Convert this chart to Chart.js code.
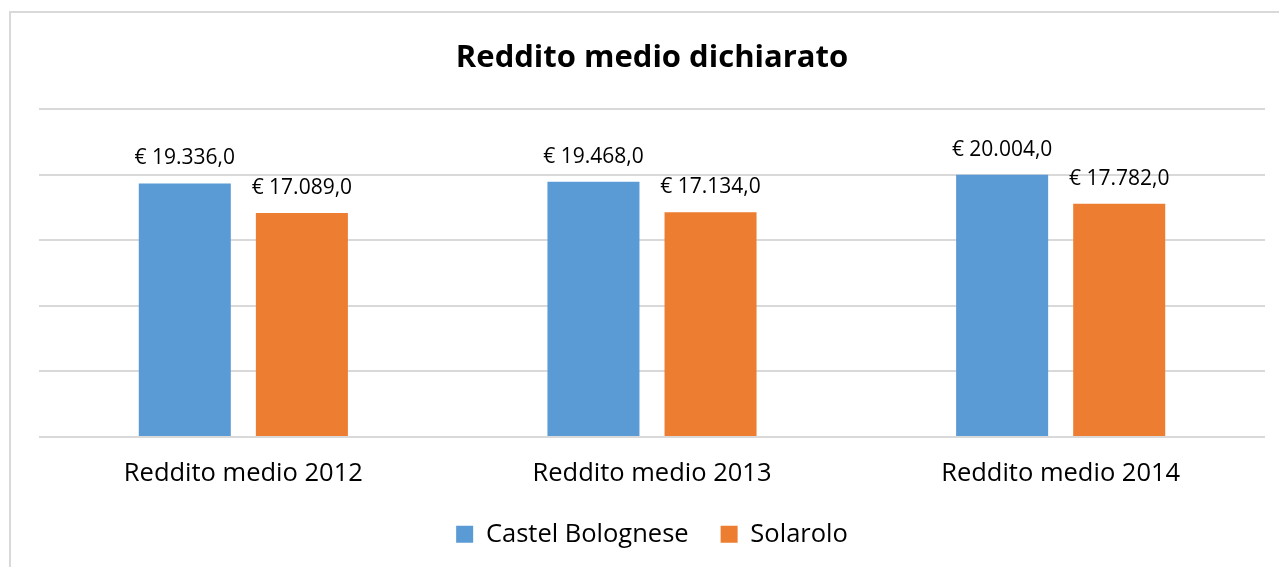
<!DOCTYPE html>
<html>
<head>
<meta charset="utf-8">
<script src="https://cdn.jsdelivr.net/npm/chart.js@4.4.1/dist/chart.umd.min.js"></script>
<style>
  html, body { margin: 0; padding: 0; background: #fff; overflow: hidden; }
  #frame { position: absolute; left: 9px; top: 11px; width: 1320px; height: 620px; border: 2px solid #d9d9d9; }
  #wrap { position: absolute; left: 0; top: 0; width: 1279px; height: 567px; }
</style>
</head>
<body>
<div id="frame"></div>
<div id="wrap"><canvas id="incomeChart"></canvas></div>
<script>
const categories = ["Reddito medio 2012", "Reddito medio 2013", "Reddito medio 2014"];
const castelBolognese = [19336, 19468, 20004];
const solarolo = [17089, 17134, 17782];
const seriesNames = ["Castel Bolognese", "Solarolo"];

// "€ 19.336,0"
function euro(v) {
    const intPart = Math.floor(v).toString().replace(/\B(?=(\d{3})+(?!\d))/g, ".");
    return "€ " + intPart + ",0";
}

const valueLabels = {
    id: 'valueLabels',
    afterDatasetsDraw(chart) {
        const ctx = chart.ctx;
        ctx.save();
        ctx.font = '21px "Open Sans"';
        ctx.fillStyle = '#000';
        ctx.textAlign = 'center';
        ctx.textBaseline = 'middle';
        chart.data.datasets.forEach((ds, i) => {
            chart.getDatasetMeta(i).data.forEach((bar, j) => {
                ctx.fillText(euro(ds.data[j]), bar.x, bar.y - 25);
            });
        });
        ctx.restore();
    }
};

const ctx = document.getElementById('incomeChart').getContext('2d');
new Chart(ctx, {
    type: 'bar',
    data: {
        labels: categories,
        datasets: [{
            label: seriesNames[0],
            data: castelBolognese,
            backgroundColor: '#5B9BD5'
        }, {
            label: seriesNames[1],
            data: solarolo,
            backgroundColor: '#ED7D31'
        }]
    },
    options: {
        responsive: true,
        maintainAspectRatio: false,
        animation: false,
        layout: { padding: { left: 39, right: 14, top: 0, bottom: 10 } },
        datasets: { bar: { categoryPercentage: 0.573, barPercentage: 0.786 } },
        plugins: {
            title: {
                display: true,
                text: 'Reddito medio dichiarato',
                color: '#000',
                font: { family: '"Open Sans"', size: 31, weight: 'bold' },
                padding: { top: 40, bottom: 32 }
            },
            legend: {
                position: 'bottom',
                labels: {
                    color: '#000',
                    font: { family: '"Open Sans"', size: 25.5 },
                    boxWidth: 17,
                    boxHeight: 17,
                    padding: 32
                }
            },
            tooltip: { enabled: false }
        },
        scales: {
            x: {
                grid: { display: false, drawTicks: false },
                border: { display: false },
                ticks: { color: '#000', font: { family: '"Open Sans"', size: 25.5 }, padding: 22 },
                // shrink the axis box so the plot reaches further down
                afterFit: function(scale) { scale.height -= 22; }
            },
            y: {
                min: 0,
                max: 25000,
                grid: { color: '#d9d9d9', lineWidth: 2, drawTicks: false },
                border: { display: false },
                ticks: { display: false, stepSize: 5000 }
            }
        }
    },
    plugins: [valueLabels]
});
</script>
</body>
</html>
